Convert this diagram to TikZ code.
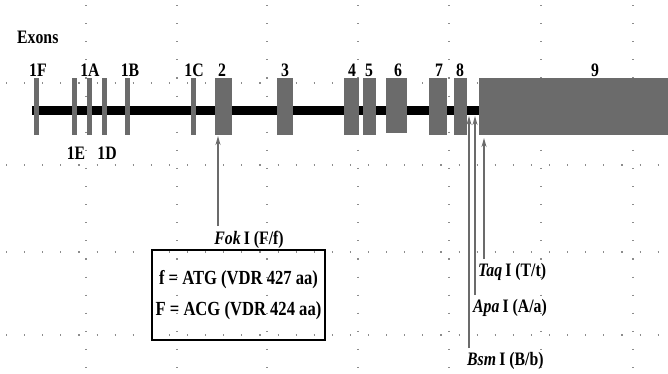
\documentclass[tikz,border=0pt]{standalone}
\usepackage{fontspec}
\setmainfont[FakeStretch=0.83]{Liberation Serif}
\usetikzlibrary{arrows.meta}
\definecolor{exongray}{gray}{0.42}
\definecolor{gridgray}{gray}{0.55}
\tikzset{
  thinexon/.style={rectangle, fill=exongray, inner sep=0pt, minimum width=5pt, minimum height=57pt},
  lbl/.style={font=\fontsize{19}{19}\selectfont\bfseries, inner sep=0pt},
  sitelbl/.style={font=\fontsize{19}{19}\selectfont\bfseries, inner sep=0pt, anchor=west},
  site/.style={draw=exongray, line width=1.6pt, -{Stealth[length=9pt,width=5pt]}},
  gridline/.style={draw=gridgray, line width=1.1pt, dash pattern=on 1.1pt off 17pt},
}
\begin{document}
\begin{tikzpicture}[x=1pt,y=-1pt]
\useasboundingbox (0,0) rectangle (668,373);
% faint dotted grid
\foreach \gx in {86,177,267,358,449,541,633}{\draw[gridline] (\gx,5) -- (\gx,373);}
\foreach \gy in {83,165,252,335}{\draw[gridline] (6,\gy) -- (668,\gy);}
% title
\node[lbl, anchor=west] (exons) at (17,37) {Exons};
% backbone
\coordinate (bbL) at (32,110);
\coordinate (bbR) at (482,110);
\draw[line width=9pt] (bbL) -- (bbR);
% thin first exons
\node[thinexon] (e1F) at (36,106.5) {};
\node[thinexon] (e1E) at (74,106.5) {};
\node[thinexon] (e1A) at (89,106.5) {};
\node[thinexon] (e1D) at (104,106.5) {};
\node[thinexon] (e1B) at (127,106.5) {};
\node[thinexon] (e1C) at (193,106.5) {};
% wide exons
\fill[exongray] (215,78) rectangle (232,135); \node[inner sep=0pt] (e2) at (223.5,106.5) {};
\fill[exongray] (277,78) rectangle (293,135); \node[inner sep=0pt] (e3) at (285,106.5) {};
\fill[exongray] (344,78) rectangle (359,135); \node[inner sep=0pt] (e4) at (351.5,106.5) {};
\fill[exongray] (363,78) rectangle (376,135); \node[inner sep=0pt] (e5) at (369.5,106.5) {};
\fill[exongray] (386,78) rectangle (407,133); \node[inner sep=0pt] (e6) at (396.5,106.5) {};
\fill[exongray] (429,78) rectangle (447,135); \node[inner sep=0pt] (e7) at (438,106.5) {};
\fill[exongray] (454,78) rectangle (467,135); \node[inner sep=0pt] (e8) at (460.5,106.5) {};
\fill[exongray] (479,78) rectangle (668,135); \node[inner sep=0pt] (e9) at (573,106.5) {};
% exon labels
\node[lbl] (l1F) at (38,70) {1F};
\node[lbl] (l1A) at (90,70) {1A};
\node[lbl] (l1B) at (130,70) {1B};
\node[lbl] (l1C) at (194,70) {1C};
\node[lbl] (l2) at (222,70) {2};
\node[lbl] (l3) at (285,70) {3};
\node[lbl] (l4) at (352,70) {4};
\node[lbl] (l5) at (369,70) {5};
\node[lbl] (l6) at (398,70) {6};
\node[lbl] (l7) at (439,70) {7};
\node[lbl] (l8) at (460,70) {8};
\node[lbl] (l9) at (595,70) {9};
\node[lbl] (l1E) at (76,153) {1E};
\node[lbl] (l1D) at (107,153) {1D};
% Fok I
\node[lbl] (fok) at (249,240) {\textit{Fok}\,I (F/f)};
\coordinate (foktip) at (218,136);
\draw[site] ([yshift=5pt]fok.north -| foktip) -- (foktip);
\node[draw, line width=1.6pt, minimum width=171pt, minimum height=90pt, align=center,
      font=\fontsize{20}{31}\selectfont\bfseries] (box) at (238.5,295)
  {f = ATG (VDR 427 aa)\\F = ACG (VDR 424 aa)};
% Taq, Apa, Bsm
\node[sitelbl] (taq) at (478,272) {\textit{Taq}\,I (T/t)};
\node[sitelbl] (apa) at (473,308) {\textit{Apa}\,I (A/a)};
\node[sitelbl] (bsm) at (467,361) {\textit{Bsm}\,I (B/b)};
\coordinate (taqtip) at (484,138);
\coordinate (apatip) at (475,116);
\coordinate (bsmtip) at (469,116);
\draw[site] ([yshift=4pt]taq.north -| taqtip) -- (taqtip);
\draw[site] ([yshift=4pt]apa.north -| apatip) -- (apatip);
\draw[site] ([yshift=4pt]bsm.north -| bsmtip) -- (bsmtip);
\end{tikzpicture}
\end{document}
